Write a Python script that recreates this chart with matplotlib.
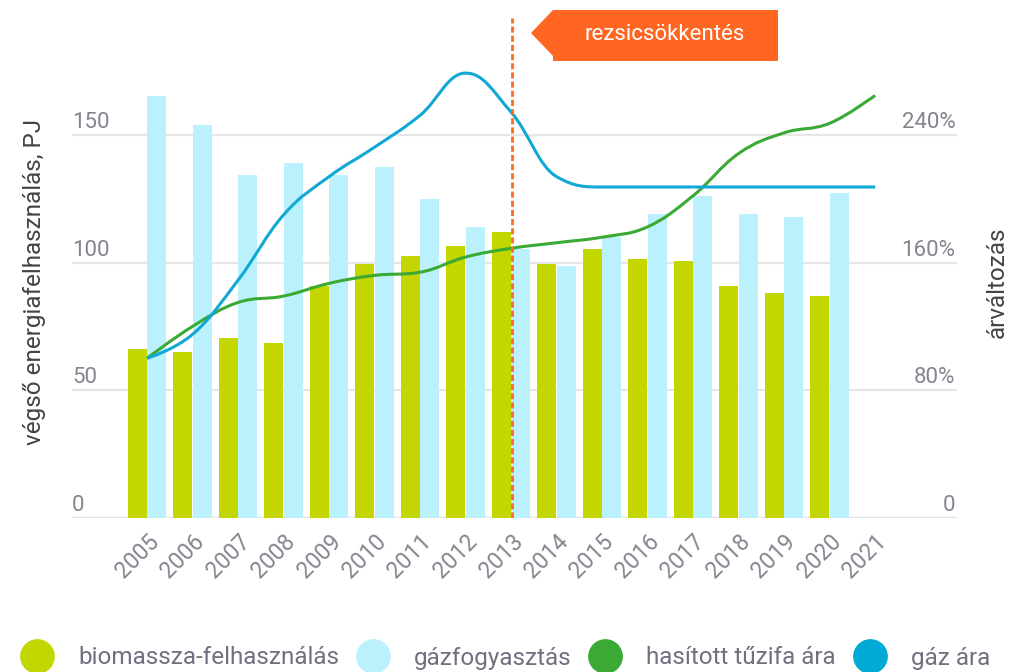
import matplotlib
matplotlib.use('Agg')
import matplotlib.pyplot as plt
from matplotlib.path import Path
from matplotlib.patches import PathPatch, Polygon
from matplotlib.lines import Line2D

plt.rcParams['font.family'] = ['Roboto', 'DejaVu Sans']

# adatok
years = ['2005', '2006', '2007', '2008', '2009', '2010', '2011', '2012', '2013',
         '2014', '2015', '2016', '2017', '2018', '2019', '2020', '2021']
biomassza = [66, 65, 70.5, 68.5, 91, 99.5, 102.5, 106.5, 112,
             99.5, 105.5, 101.5, 100.5, 91, 88, 87]
gazfogyasztas = [165.5, 154, 134.5, 139, 134.5, 137.5, 125, 114, 105.5,
                 98.5, 110, 119, 126, 119, 118, 127.5]
tuzifa_ar = [100, 120, 135, 139, 147, 152, 154, 163.5, 169,
             172.5, 176, 182.5, 202, 228.5, 241.5, 247.5, 265]
gaz_ar = [100, 115, 149, 190, 214, 232.5, 252.5, 279, 254.5,
          214, 207.5, 207.5, 207.5, 207.5, 207.5, 207.5, 207.5]
left_ticks = [0, 50, 100, 150]
right_ticks = [0, 80, 160, 240]
right_labels = ['0', '80%', '160%', '240%']

c_bio = '#c3d600'
c_gaz = '#bbf1fd'
c_fa = '#3aaa35'
c_gazar = '#12a8d6'
c_orange = '#ff6a21'
c_tick = '#858590'


def spline_path(xs, ys):
    # highcharts-szerű spline
    n = len(xs)
    lc = [None] * n
    rc = [None] * n
    for i in range(1, n - 1):
        x, y = xs[i], ys[i]
        lx, ly = xs[i - 1], ys[i - 1]
        nx, ny = xs[i + 1], ys[i + 1]
        lcx, lcy = (1.5 * x + lx) / 2.5, (1.5 * y + ly) / 2.5
        rcx, rcy = (1.5 * x + nx) / 2.5, (1.5 * y + ny) / 2.5
        corr = (rcy - lcy) * (rcx - x) / (rcx - lcx) + y - rcy
        lcy += corr
        rcy += corr
        if lcy > ly and lcy > y:
            lcy = max(ly, y); rcy = 2 * y - lcy
        elif lcy < ly and lcy < y:
            lcy = min(ly, y); rcy = 2 * y - lcy
        if rcy > ny and rcy > y:
            rcy = max(ny, y); lcy = 2 * y - rcy
        elif rcy < ny and rcy < y:
            rcy = min(ny, y); lcy = 2 * y - rcy
        lc[i] = (lcx, lcy)
        rc[i] = (rcx, rcy)
    verts = [(xs[0], ys[0])]
    codes = [Path.MOVETO]
    for i in range(1, n):
        c1 = rc[i - 1] or (xs[i - 1], ys[i - 1])
        c2 = lc[i] or (xs[i], ys[i])
        verts += [c1, c2, (xs[i], ys[i])]
        codes += [Path.CURVE4] * 3
    return Path(verts, codes)


fig = plt.figure(figsize=(10.3, 6.72), dpi=100)
ax = fig.add_axes([72 / 1030, 154.5 / 672, 885 / 1030, 499.5 / 672])
ax2 = ax.twinx()

xb = range(len(biomassza))
w = 0.42
ax.bar([i - 0.215 for i in xb], biomassza, width=w, color=c_bio, zorder=2)
ax.bar([i + 0.215 for i in xb], gazfogyasztas, width=w, color=c_gaz, zorder=2)

ymax = 196
ax.set_ylim(0, ymax)
ax2.set_ylim(0, ymax * 1.6)
ax.set_xlim(-1.65, 17.8)

ax.set_yticks(left_ticks)
ax.set_yticklabels([])
ax2.set_yticks(right_ticks)
ax2.set_yticklabels([])
ax.grid(axis='y', color='#e6e6e6', lw=1.6, zorder=0)
ax.axhline(0, color='#e6e6e6', lw=2.4, zorder=1)
ax.set_axisbelow(True)
ax.tick_params(axis='y', length=0)
ax2.tick_params(axis='y', length=0)

# tengelyfeliratok a rácsvonalak fölött
for t in left_ticks:
    ax.annotate(str(t), xy=(0, t), xycoords=ax.get_yaxis_transform(),
                xytext=(0, 5), textcoords='offset points', ha='left', va='baseline',
                fontsize=16, color=c_tick)
for t, lab in zip(right_ticks, right_labels):
    ax2.annotate(lab, xy=(1, t), xycoords=ax2.get_yaxis_transform(),
                 xytext=(-1, 5), textcoords='offset points', ha='right', va='baseline',
                 fontsize=16, color=c_tick)

ax.set_xticks(range(len(years)))
ax.set_xticklabels(years, rotation=45, ha='right', va='top', rotation_mode='anchor')
ax.tick_params(axis='x', length=0, pad=9, labelsize=16.5, labelcolor=c_tick)

for a in (ax, ax2):
    for s in a.spines.values():
        s.set_visible(False)

xs = list(range(len(years)))
ax2.add_patch(PathPatch(spline_path(xs, tuzifa_ar), fill=False, ec=c_fa, lw=2.2, zorder=3))
ax2.add_patch(PathPatch(spline_path(xs, gaz_ar), fill=False, ec=c_gazar, lw=2.2, zorder=3))
ax2.axvline(8.03, color=c_orange, ls=(0, (2.2, 1.1)), lw=2, zorder=4)

fig.text(35 / 1030, 1 - 282 / 672, 'végső energiafelhasználás, PJ', rotation=90,
         ha='center', va='center', fontsize=17.5, color='#444444')
fig.text(997 / 1030, 1 - 282 / 672, 'árváltozás', rotation=90,
         ha='center', va='center', fontsize=17.5, color='#444444')

# rezsicsökkentés címke
pts = [(531, 33), (553, 10), (778, 10), (778, 61), (553, 61), (553, 56)]
fig.patches.append(Polygon([(x / 1030, 1 - y / 672) for x, y in pts], closed=True,
                           fc='#ff6622', ec='none', transform=fig.transFigure, figure=fig))
fig.text(665 / 1030, 1 - 34 / 672, 'rezsicsökkentés', ha='center', va='center',
         fontsize=16, color='white')

handles = [Line2D([], [], marker='o', ls='none', markersize=24, color=c)
           for c in (c_bio, c_gaz, c_fa, '#00aad4')]
labels = ['biomassza-felhasználás', 'gázfogyasztás', 'hasított tűzifa ára', 'gáz ára']
fig.legend(handles, labels, loc='center', bbox_to_anchor=(505 / 1030, 1 - 658 / 672),
           ncol=4, frameon=False, fontsize=17.5, labelcolor='#707080',
           handlelength=1.4, handletextpad=0.98, columnspacing=0.7)

fig.savefig('out.png', dpi=100)
